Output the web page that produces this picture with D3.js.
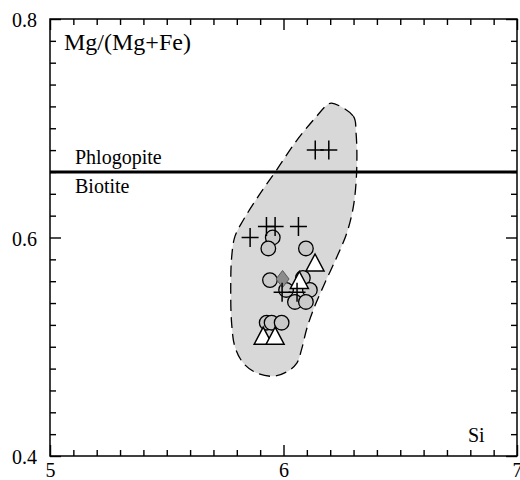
<!DOCTYPE html>
<html>
<head>
<meta charset="utf-8">
<script src="https://cdn.jsdelivr.net/npm/d3@7"></script>
<style>
  html, body { margin: 0; padding: 0; background: #fff; }
  svg { display: block; }
  text { font-family: "Liberation Serif", "Times New Roman", serif; fill: #000; }
</style>
</head>
<body>
<svg id="chart" width="520" height="480"></svg>
<script>
// Axis ranges and labelled ticks
const xDomain = [5, 7];
const yDomain = [0.4, 0.8];
const xTickLabels = [5, 6, 7];
const yTickLabels = [0.4, 0.6, 0.8];

// Phlogopite / biotite boundary
const boundaryY = 0.66;

// Field outline (Si, Mg/(Mg+Fe))
const fieldX = [6.206, 6.299, 6.311, 6.313, 6.299, 6.271, 6.228, 6.170, 6.128, 6.099, 6.078, 6.057, 6.014, 5.956, 5.885, 5.828, 5.792, 5.778, 5.774, 5.778, 5.792, 5.828, 5.899, 5.971, 6.057, 6.142, 6.185];
const fieldY = [0.723, 0.711, 0.695, 0.659, 0.628, 0.604, 0.582, 0.555, 0.534, 0.516, 0.498, 0.485, 0.477, 0.473, 0.476, 0.485, 0.500, 0.521, 0.552, 0.582, 0.601, 0.616, 0.640, 0.662, 0.689, 0.711, 0.721];

// Circles
const circleX = [5.954, 5.935, 6.096, 5.942, 6.083, 6.011, 6.113, 6.049, 6.096, 5.928, 5.949, 5.992];
const circleY = [0.600, 0.590, 0.590, 0.561, 0.563, 0.552, 0.552, 0.541, 0.541, 0.522, 0.522, 0.522];

// Diamond
const diamondX = [5.996];
const diamondY = [0.562];

// Triangles
const triangleX = [6.135, 6.068, 5.913, 5.964];
const triangleY = [0.575, 0.559, 0.508, 0.508];

// Crosses
const crossX = [6.136, 6.194, 5.857, 5.927, 5.964, 6.064, 5.994, 6.058];
const crossY = [0.680, 0.680, 0.600, 0.610, 0.610, 0.610, 0.550, 0.550];

const svg = d3.select("#chart");
const plotLeft = 50, plotRight = 517, plotTop = 19, plotBottom = 456;

const x = d3.scaleLinear().domain(xDomain).range([plotLeft, plotRight]);
const y = d3.scaleLinear().domain(yDomain).range([plotBottom, plotTop]);

// Field
const fieldPts = fieldX.map((v, i) => [x(v), y(fieldY[i])]);
svg.append("path")
  .attr("d", d3.line().curve(d3.curveCatmullRomClosed.alpha(0.5))(fieldPts))
  .attr("fill", "#d8d8d8")
  .attr("stroke", "#000")
  .attr("stroke-width", 1.3)
  .attr("stroke-dasharray", "11,6");

// Boundary line
svg.append("line")
  .attr("x1", x(xDomain[0])).attr("x2", x(xDomain[1]))
  .attr("y1", y(boundaryY)).attr("y2", y(boundaryY))
  .attr("stroke", "#000").attr("stroke-width", 3);

// Axes: minor ticks and major ticks, pointing inward
const xMinor = d3.range(21).map(i => xDomain[0] + i * 0.1).filter(v => !xTickLabels.some(t => Math.abs(t - v) < 1e-9));
const yMinor = d3.range(21).map(i => yDomain[0] + i * 0.02).filter(v => !yTickLabels.some(t => Math.abs(t - v) < 1e-9));
const minorLen = 6, majorLen = 11;

function styleAxis(g) {
  g.select(".domain").remove();
  g.selectAll("line").attr("stroke", "#000").attr("stroke-width", 1.4);
  g.selectAll("text").attr("font-family", "Liberation Serif, Times New Roman, serif").attr("font-size", 20).attr("fill", "#000");
}

// bottom
svg.append("g").attr("transform", `translate(0,${plotBottom})`)
  .call(d3.axisBottom(x).tickValues(xMinor).tickSize(-minorLen).tickFormat(""))
  .call(styleAxis);
const xLab = svg.append("g").attr("transform", `translate(0,${plotBottom})`)
  .call(d3.axisBottom(x).tickValues(xTickLabels).tickSize(-majorLen).tickPadding(7).tickFormat(d3.format("d")))
  .call(styleAxis);
xLab.selectAll("text").attr("dy", "0.68em");
// top
svg.append("g").attr("transform", `translate(0,${plotTop})`)
  .call(d3.axisTop(x).tickValues(xMinor).tickSize(-minorLen).tickFormat(""))
  .call(styleAxis);
svg.append("g").attr("transform", `translate(0,${plotTop})`)
  .call(d3.axisTop(x).tickValues(xTickLabels).tickSize(-majorLen).tickFormat(""))
  .call(styleAxis);
// left
svg.append("g").attr("transform", `translate(${plotLeft},0)`)
  .call(d3.axisLeft(y).tickValues(yMinor).tickSize(-minorLen).tickFormat(""))
  .call(styleAxis);
const yLab = svg.append("g").attr("transform", `translate(${plotLeft},0)`)
  .call(d3.axisLeft(y).tickValues(yTickLabels).tickSize(-majorLen).tickPadding(13).tickFormat(d3.format(".1f")))
  .call(styleAxis);
yLab.selectAll("text").attr("dy", "0.38em");
// right
svg.append("g").attr("transform", `translate(${plotRight},0)`)
  .call(d3.axisRight(y).tickValues(yMinor).tickSize(-minorLen).tickFormat(""))
  .call(styleAxis);
svg.append("g").attr("transform", `translate(${plotRight},0)`)
  .call(d3.axisRight(y).tickValues(yTickLabels).tickSize(-majorLen).tickFormat(""))
  .call(styleAxis);

// Frame
svg.append("rect")
  .attr("x", plotLeft).attr("y", plotTop)
  .attr("width", plotRight - plotLeft).attr("height", plotBottom - plotTop)
  .attr("fill", "none").attr("stroke", "#000").attr("stroke-width", 1.5);

// Circles
svg.append("g").selectAll("circle")
  .data(circleX.map((v, i) => [v, circleY[i]]))
  .join("circle")
  .attr("cx", d => x(d[0])).attr("cy", d => y(d[1]))
  .attr("r", 7.3)
  .attr("fill", "#cacaca").attr("stroke", "#000").attr("stroke-width", 1.3);

// Diamond
svg.append("g").selectAll("path")
  .data(diamondX.map((v, i) => [v, diamondY[i]]))
  .join("path")
  .attr("transform", d => `translate(${x(d[0])},${y(d[1])})`)
  .attr("d", "M0,-8.5L6.5,0L0,8.5L-6.5,0Z")
  .attr("fill", "#8c8c8c").attr("stroke", "#5a5a5a").attr("stroke-width", 1);

// Triangles
svg.append("g").selectAll("path")
  .data(triangleX.map((v, i) => [v, triangleY[i]]))
  .join("path")
  .attr("transform", d => `translate(${x(d[0])},${y(d[1])})`)
  .attr("d", "M0,-10.8L9,6.2L-9,6.2Z")
  .attr("fill", "#fff").attr("stroke", "#000").attr("stroke-width", 1.5).attr("stroke-linejoin", "miter");

// Crosses
svg.append("g").selectAll("path")
  .data(crossX.map((v, i) => [v, crossY[i]]))
  .join("path")
  .attr("transform", d => `translate(${x(d[0])},${y(d[1])})`)
  .attr("d", "M-8.5,0H8.5M0,-9.5V9.5")
  .attr("fill", "none").attr("stroke", "#000").attr("stroke-width", 1.5);

// Labels
svg.append("text").attr("x", 64).attr("y", 50).attr("font-size", 24).text("Mg/(Mg+Fe)");
svg.append("text").attr("x", 75).attr("y", 164).attr("font-size", 20).text("Phlogopite");
svg.append("text").attr("x", 75).attr("y", 193).attr("font-size", 20).text("Biotite");
svg.append("text").attr("x", 468).attr("y", 442).attr("font-size", 20).text("Si");
</script>
</body>
</html>
